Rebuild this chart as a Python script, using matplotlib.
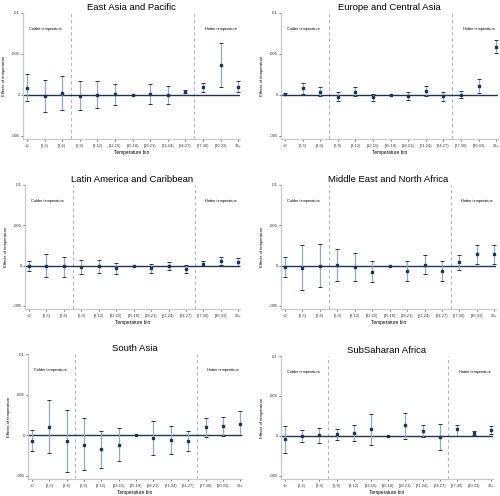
import matplotlib
matplotlib.use("Agg")
import matplotlib.pyplot as plt
import numpy as np

plt.rcParams['font.family'] = ['Liberation Sans', 'DejaVu Sans']

# temperature bins (reference bin is [15,18))
bins = ["<0", "[0,3)", "[3,6)", "[6,9)", "[9,12)", "[12,15)", "[15,18)",
        "[18,21)", "[21,24)", "[24,27)", "[27,30)", "[30,33)", "33+"]
y_ticks = [-0.005, 0, 0.005, 0.01]
y_tick_labels = ["-.005", "0", ".005", ".01"]

# East Asia and Pacific
eap_est = [0.00085, -0.0001, 0.00025, -0.0001, 0.0, 0.0001, 0.0, 0.0001, 0.0, 0.0004, 0.0009, 0.0037, 0.001]
eap_lo = [-0.0007, -0.0021, -0.0018, -0.0019, -0.0016, -0.0012, 0.0, -0.0011, -0.0011, 0.0002, 0.0004, 0.001, 0.0004]
eap_hi = [0.0025, 0.0018, 0.0023, 0.0017, 0.0017, 0.0013, 0.0, 0.0013, 0.0011, 0.0006, 0.0015, 0.0063, 0.0017]

# Europe and Central Asia
eca_est = [0.0001, 0.0008, 0.0004, -0.00025, 0.0004, -0.0003, 0.0, -0.0001, 0.0005, -0.0002, 0.0, 0.0011, 0.0059]
eca_lo = [0.0, 0.0001, -0.0002, -0.0008, -0.0001, -0.0008, 0.0, -0.0006, -0.0001, -0.0007, -0.0004, 0.0002, 0.0051]
eca_hi = [0.00025, 0.0015, 0.0009, 0.0003, 0.0009, 0.0001, 0.0, 0.0004, 0.0011, 0.0004, 0.0005, 0.0019, 0.0067]

# Latin America and Caribbean
lac_est = [0.0, 0.0, -0.0001, -0.0002, -0.0001, -0.0003, 0.0, -0.0003, 0.0, -0.0004, 0.0002, 0.0006, 0.0004]
lac_lo = [-0.0007, -0.0014, -0.0014, -0.0011, -0.0009, -0.001, 0.0, -0.0009, -0.0005, -0.0009, -0.0001, 0.0001, 0.0]
lac_hi = [0.0006, 0.0014, 0.001, 0.0007, 0.0007, 0.0003, 0.0, 0.0002, 0.0004, 0.0001, 0.0005, 0.0011, 0.0009]

# Middle East and North Africa
mena_est = [-0.0002, -0.0003, 0.0, 0.0001, -0.0002, -0.0008, 0.0, -0.0007, 0.0001, -0.0007, 0.0004, 0.0014, 0.0014]
mena_lo = [-0.0014, -0.003, -0.0027, -0.0019, -0.0019, -0.0021, 0.0, -0.0019, -0.001, -0.0019, -0.0005, 0.0002, 0.0002]
mena_hi = [0.001, 0.0025, 0.0027, 0.0021, 0.0015, 0.0006, 0.0, 0.0005, 0.0013, 0.0005, 0.0013, 0.0026, 0.0026]

# South Asia
sa_est = [-0.0007, 0.001, -0.0007, -0.0012, -0.0017, -0.0012, 0.0, -0.0003, -0.0006, -0.0007, 0.001, 0.0011, 0.0014]
sa_lo = [-0.0019, -0.0022, -0.0045, -0.0043, -0.0041, -0.0032, 0.0, -0.0024, -0.0023, -0.002, -0.0002, -0.0001, 0.0]
sa_hi = [0.0006, 0.0043, 0.0031, 0.0021, 0.0005, 0.0009, 0.0, 0.0018, 0.0011, 0.0005, 0.0021, 0.0022, 0.003]

# SubSaharan Africa
ssa_est = [-0.0004, 0.0, 0.0001, 0.0002, 0.0003, 0.0009, 0.0, 0.0013, 0.0006, -0.0002, 0.0008, 0.0003, 0.0007]
ssa_lo = [-0.0021, -0.0008, -0.0009, -0.0005, -0.0007, -0.0011, 0.0, -0.0004, -0.0002, -0.0018, 0.0, 0.0001, 0.0002]
ssa_hi = [0.0012, 0.0007, 0.001, 0.0008, 0.0013, 0.0028, 0.0, 0.0029, 0.0014, 0.0015, 0.0014, 0.0006, 0.0012]

navy = "#1b3557"
ci_col = "#8eaac4"
grey = "#b5b5b5"

W, H = 500.0, 496.0
# panel boxes in pixels: left, right, top, bottom
panels = [
    ("East Asia and Pacific", eap_est, eap_lo, eap_hi, (23, 240, 13, 139)),
    ("Europe and Central Asia", eca_est, eca_lo, eca_hi, (281, 498, 13, 139)),
    ("Latin America and Caribbean", lac_est, lac_lo, lac_hi, (25, 240, 185, 309)),
    ("Middle East and North Africa", mena_est, mena_lo, mena_hi, (281, 496, 185, 309)),
    ("South Asia", sa_est, sa_lo, sa_hi, (28, 242, 354, 479)),
    ("SubSaharan Africa", ssa_est, ssa_lo, ssa_hi, (281, 493, 356, 479)),
]

fig = plt.figure(figsize=(5, 4.96), dpi=100)
fig.patch.set_facecolor("white")

x = np.arange(len(bins))
for title, est, lo, hi, (l, r, t, b) in panels:
    ax = fig.add_axes([l / W, 1 - b / H, (r - l) / W, (b - t) / H])
    est = np.array(est)
    lo = np.array(lo)
    hi = np.array(hi)

    ax.axhline(0, color=navy, lw=1.0, zorder=2)
    for xv in (2.5, 9.5):
        ax.axvline(xv, color=grey, lw=0.8, ls=(0, (3, 2.5)), zorder=1)

    line, caps, bars = ax.errorbar(x, est, yerr=[est - lo, hi - est], fmt="s", ms=1.6,
                                   mfc=navy, mec=navy, ecolor=ci_col, elinewidth=0.9,
                                   capsize=1.6, capthick=0.7, zorder=3)
    for c in caps:
        c.set_markeredgecolor(navy)

    ax.text(0.1, 0.008, "Colder temperature", fontsize=2.8, va="center", ha="left")
    ax.text(10.1, 0.008, "Hotter temperature", fontsize=2.8, va="center", ha="left")

    ax.set_xlim(-0.23, 12.1)
    ax.set_ylim(-0.0054, 0.01)
    ax.set_xticks(x)
    ax.set_xticklabels(bins)
    ax.set_yticks(y_ticks)
    ax.set_yticklabels(y_tick_labels)
    ax.tick_params(axis="x", labelsize=2.9, length=1.5, width=0.5, pad=2.3, colors="#333333")
    ax.tick_params(axis="y", labelsize=3.1, length=1.5, width=0.5, pad=0.8, colors="#333333")
    ax.set_xlabel("Temperature bin", fontsize=3.4, labelpad=1.3)
    ax.set_ylabel("Effects of temperature", fontsize=3.0, labelpad=3)
    ax.set_title(title, fontsize=6.8, pad=2.5)

    for side in ("top", "right"):
        ax.spines[side].set_visible(False)
    for side in ("left", "bottom"):
        ax.spines[side].set_color("#c8c8c8")
        ax.spines[side].set_linewidth(0.9)

fig.savefig("out.png", dpi=100, facecolor="white")
